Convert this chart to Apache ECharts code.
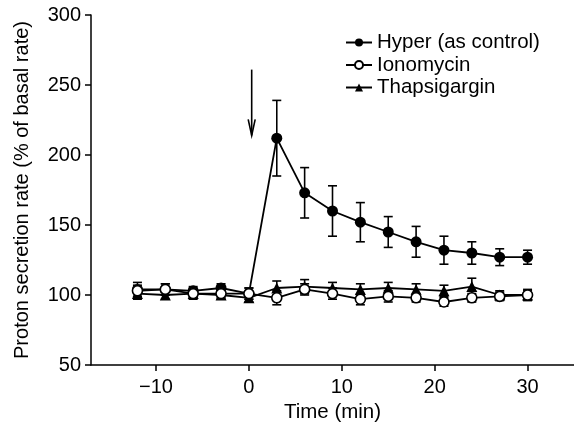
<!DOCTYPE html>
<html>
<head>
<meta charset="utf-8">
<script src="https://cdn.jsdelivr.net/npm/echarts@6/dist/echarts.min.js"></script>
<style>
html,body{margin:0;padding:0;background:#fff;}
#chart{width:574px;height:423px;}
</style>
</head>
<body>
<div id="chart"></div>
<script>
const times = [-12, -9, -6, -3, 0, 3, 6, 9, 12, 15, 18, 21, 24, 27, 30];
const hyper = [104, 104, 103, 105, 101, 212, 173, 160, 152, 145, 138, 132, 130, 127, 127];
const hyperErr = [5, 4, 3, 3, 4, 27, 18, 18, 14, 11, 11, 10, 8, 6, 5];
const iono = [103, 104, 101, 101, 101, 98, 104, 101, 97, 99, 98, 95, 98, 99, 100];
const ionoErr = [4, 4, 4, 3, 4, 5, 4, 4, 4, 4, 3, 3, 3, 3, 3];
const thaps = [101, 100, 101, 100, 98, 105, 106, 105, 104, 105, 104, 103, 106, 100, 100];
const thapsErr = [4, 3, 3, 3, 3, 5, 5, 4, 4, 4, 4, 4, 6, 3, 4];
const xTicks = [-10, 0, 10, 20, 30];
const yTicks = [50, 100, 150, 200, 250, 300];
const arrow = [[0.3, 261], [0.3, 214]];
const names = ['Hyper (as control)', 'Ionomycin', 'Thapsigargin'];

const FONT = '"Liberation Sans", Arial, Helvetica, sans-serif';

function errData(vals, errs) {
  return times.map((t, i) => [t, vals[i] - errs[i], vals[i] + errs[i]]);
}
function errSeries(vals, errs) {
  return {
    type: 'custom',
    silent: true,
    z: 1,
    data: errData(vals, errs),
    renderItem: function (params, api) {
      const x = api.value(0);
      const lo = api.coord([x, api.value(1)]);
      const hi = api.coord([x, api.value(2)]);
      const hw = 4.5;
      const st = { stroke: '#000', lineWidth: 1.6, fill: null };
      return {
        type: 'group',
        children: [
          { type: 'line', shape: { x1: lo[0], y1: lo[1], x2: hi[0], y2: hi[1] }, style: st },
          { type: 'line', shape: { x1: lo[0] - hw, y1: lo[1], x2: lo[0] + hw, y2: lo[1] }, style: st },
          { type: 'line', shape: { x1: hi[0] - hw, y1: hi[1], x2: hi[0] + hw, y2: hi[1] }, style: st }
        ]
      };
    }
  };
}
function pts(vals) { return times.map((t, i) => [t, vals[i]]); }

const chart = echarts.init(document.getElementById('chart'), null, { renderer: 'canvas' });
chart.setOption({
  backgroundColor: '#fff',
  animation: false,
  grid: { left: 91, right: 0, top: 15, bottom: 58, containLabel: false, outerBoundsMode: 'none' },
  legend: {
    orient: 'vertical',
    left: 345,
    top: 32,
    padding: 0,
    itemGap: 1.5,
    itemWidth: 26,
    itemHeight: 10,
    itemGap: 1.5,
    textStyle: { fontFamily: FONT, fontSize: 20.5, color: '#000', padding: [0, 0, 0, 0] },
    data: names
  },
  xAxis: {
    type: 'value',
    min: -17,
    max: 35,
    name: 'Time (min)',
    nameLocation: 'middle',
    nameGap: 34,
    nameTextStyle: { fontFamily: FONT, fontSize: 20.5, color: '#000' },
    splitLine: { show: false },
    axisLine: { show: true, onZero: false, lineStyle: { color: '#000', width: 1.5 } },
    axisTick: { show: true, length: 6, lineStyle: { color: '#000', width: 1.5 }, customValues: xTicks },
    axisLabel: {
      fontFamily: FONT, fontSize: 20, color: '#000', margin: 12,
      customValues: xTicks,
      formatter: v => (v < 0 ? '\u2212' + Math.abs(v) : String(v))
    }
  },
  yAxis: {
    type: 'value',
    min: 50,
    max: 300,
    interval: 50,
    name: 'Proton secretion rate (% of basal rate)',
    nameLocation: 'middle',
    nameGap: 59,
    nameTextStyle: { fontFamily: FONT, fontSize: 20, color: '#000' },
    splitLine: { show: false },
    axisLine: { show: true, onZero: false, lineStyle: { color: '#000', width: 1.5 } },
    axisTick: { show: true, length: 6, lineStyle: { color: '#000', width: 1.5 } },
    axisLabel: { fontFamily: FONT, fontSize: 20, color: '#000', margin: 10 }
  },
  series: [
    errSeries(hyper, hyperErr),
    errSeries(iono, ionoErr),
    errSeries(thaps, thapsErr),
    {
      name: names[2], type: 'line', z: 3, data: pts(thaps),
      symbol: 'triangle', symbolSize: 11,
      lineStyle: { color: '#000', width: 1.8 },
      itemStyle: { color: '#000', borderColor: '#000', borderWidth: 0 }
    },
    {
      name: names[0], type: 'line', z: 4, data: pts(hyper),
      symbol: 'circle', symbolSize: 11,
      lineStyle: { color: '#000', width: 1.8 },
      itemStyle: { color: '#000', borderColor: '#000', borderWidth: 0 }
    },
    {
      name: names[1], type: 'line', z: 5, data: pts(iono),
      symbol: 'circle', symbolSize: 10,
      lineStyle: { color: '#000', width: 1.8 },
      itemStyle: { color: '#fff', borderColor: '#000', borderWidth: 1.6 }
    },
    {
      type: 'custom', silent: true, z: 6,
      data: arrow,
      renderItem: function (params, api) {
        if (params.dataIndex !== 0) return null;
        const a = api.coord(arrow[0]);
        const b = api.coord(arrow[1]);
        const st = { stroke: '#000', lineWidth: 1.6, fill: null };
        return {
          type: 'group',
          children: [
            { type: 'line', shape: { x1: a[0], y1: a[1], x2: b[0], y2: b[1] }, style: st },
            { type: 'polyline', shape: { points: [[b[0] - 3.5, b[1] - 16], [b[0], b[1]], [b[0] + 3.5, b[1] - 16]] }, style: st }
          ]
        };
      }
    }
  ]
});
</script>
</body>
</html>
